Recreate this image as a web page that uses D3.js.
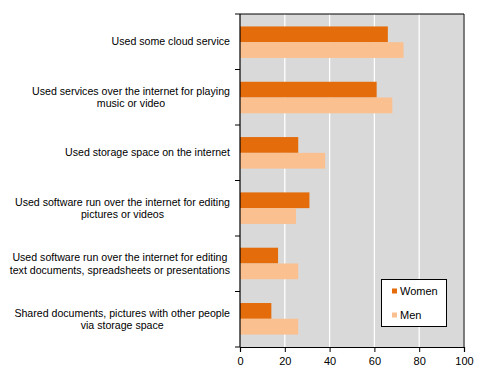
<!DOCTYPE html>
<html><head><meta charset="utf-8">
<script src="https://cdn.jsdelivr.net/npm/d3@7"></script>
<style>body{margin:0;background:#fff}svg{display:block;font-family:"Liberation Sans",Arial,sans-serif}</style>
</head><body><svg id="c" width="488" height="375"></svg>
<script>
const categories = [
  ["Used some cloud service"],
  ["Used services over the internet for playing", "music or video"],
  ["Used storage space on the internet"],
  ["Used software run over the internet for editing", "pictures or videos"],
  ["Used software run over the internet for editing", "text documents, spreadsheets or presentations"],
  ["Shared documents, pictures with other people", "via storage space"]
];
const women = [66, 61, 26, 31, 17, 14];
const men = [73, 68, 38, 25, 26, 26];
const seriesNames = ["Women", "Men"];
const xTicks = [0, 20, 40, 60, 80, 100];

const colors = ["#E46C0A", "#FAC090"];
const L = 240, R = 464, T = 14, B = 347;
const svg = d3.select("#c");
const x = d3.scaleLinear().domain([0, 100]).range([L, R]);
const y = d3.scaleBand().domain(d3.range(categories.length)).range([T, B]).paddingInner(0.43).paddingOuter(0.225);
const sub = d3.scaleBand().domain([0, 1]).range([0, y.bandwidth()]);

svg.append("rect").attr("x", L).attr("y", T).attr("width", R - L).attr("height", B - T).attr("fill", "#D9D9D9");
svg.append("g").selectAll("line").data(xTicks.slice(1)).join("line")
  .attr("x1", d => x(d)).attr("x2", d => x(d)).attr("y1", T).attr("y2", B)
  .attr("stroke", "#fff").attr("stroke-width", 1.3);

const data = [women, men];
data.forEach((vals, s) => {
  svg.append("g").selectAll("rect").data(vals).join("rect")
    .attr("x", x(0)).attr("y", (d, i) => y(i) + sub(s))
    .attr("width", d => x(d) - x(0)).attr("height", sub.bandwidth())
    .attr("fill", colors[s]);
});

// border
svg.append("path").attr("d", `M${L},${T}H${R}V${B}`).attr("fill", "none").attr("stroke", "#000").attr("stroke-width", 1);

// x axis
const xa = svg.append("g").attr("transform", `translate(0,${B})`)
  .call(d3.axisBottom(x).tickValues(xTicks).tickSize(5).tickPadding(5));
xa.select(".domain").attr("stroke", "#000").attr("stroke-width", 1.2);
xa.selectAll(".tick line").attr("stroke", "#000");
xa.selectAll("text").attr("font-size", 11).attr("fill", "#000").attr("font-family", "Liberation Sans, Arial, sans-serif");

// y axis
const yEdge = d3.scaleLinear().domain([0, categories.length]).range([T, B]);
const ya = svg.append("g");
ya.append("line").attr("x1", L).attr("x2", L).attr("y1", T).attr("y2", B).attr("stroke", "#000").attr("stroke-width", 1.2);
ya.selectAll(".tk").data(d3.range(categories.length + 1)).join("line")
  .attr("x1", L - 5).attr("x2", L).attr("y1", d => yEdge(d)).attr("y2", d => yEdge(d)).attr("stroke", "#000");

const lh = 12.3;
categories.forEach((lines, i) => {
  const cy = (yEdge(i) + yEdge(i + 1)) / 2;
  const t = svg.append("text").attr("text-anchor", "middle").attr("font-size", 10.6).attr("fill", "#000");
  lines.forEach((ln, j) => {
    t.append("tspan").attr("x", 0).attr("y", cy + (j - (lines.length - 1) / 2) * lh).attr("dy", "0.35em").text(ln);
  });
  const w = t.node().getBBox().width;
  t.selectAll("tspan").attr("x", 230 - w / 2);
});

// legend
const lg = svg.append("g");
lg.append("rect").attr("x", 381.5).attr("y", 279.5).attr("width", 65).attr("height", 47).attr("fill", "#fff").attr("stroke", "#000");
seriesNames.forEach((n, i) => {
  const yy = 291 + i * 24;
  lg.append("rect").attr("x", 392).attr("y", yy - 2.5).attr("width", 5).attr("height", 5).attr("fill", colors[i]);
  lg.append("text").attr("x", 400).attr("y", yy).attr("dy", "0.35em").attr("font-size", 11).attr("fill", "#000").text(n);
});
</script></body></html>
